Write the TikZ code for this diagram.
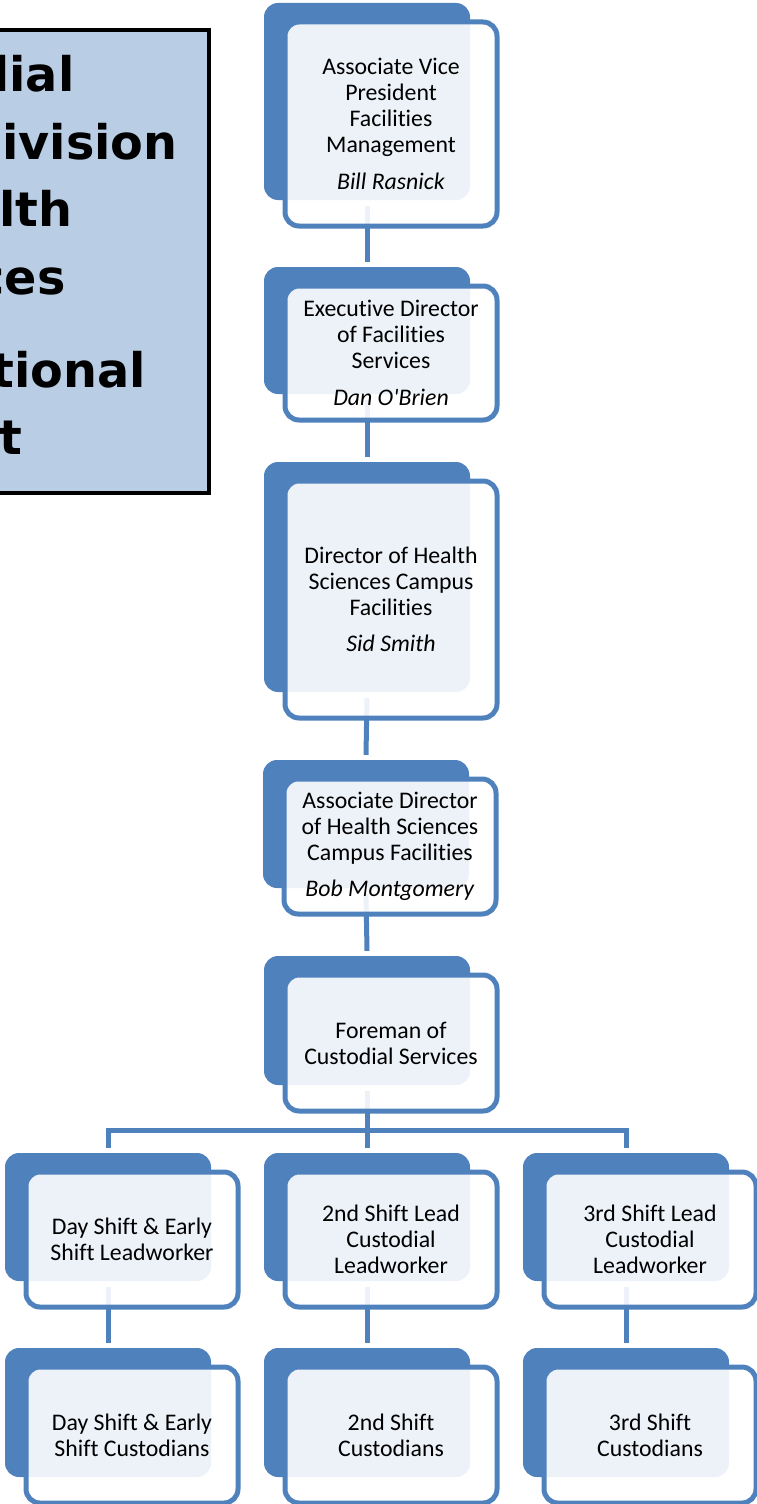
\documentclass[tikz,border=0pt]{standalone}
\usepackage{fontspec}
\setmainfont{Carlito}[Ligatures={NoCommon,NoContextual,NoRequired}, Contextuals={NoAlternate}]
\newfontfamily\titlefont{DejaVu Sans}
\definecolor{accent}{RGB}{79,129,189}
\definecolor{titlefill}{RGB}{185,205,229}
\begin{document}
\begin{tikzpicture}[x=1pt,y=-1pt,
  backbox/.style={shape=rectangle, fill=accent, rounded corners=14pt, minimum width=206pt, inner sep=0pt},
  frontbox/.style={shape=rectangle, fill=white, fill opacity=0.9, text opacity=1, draw=accent, line width=5pt,
    rounded corners=14pt, minimum width=212pt, inner sep=0pt, align=center,
    font=\fontsize{23.8}{26}\selectfont},
  conn/.style={draw=accent, line width=5pt},
  titleline/.style={anchor=base, inner sep=0pt, font=\titlefont\bfseries\fontsize{47.7}{50}\selectfont}]
\useasboundingbox (0,0) rectangle (756,1504);

% title box (clipped at the left edge)
\begin{scope}
\clip (0,0) rectangle (756,1504);
\node[draw=black, fill=titlefill, line width=4pt, minimum width=609pt, minimum height=463pt, inner sep=0pt] (title) at (-95.5,261.5) {};
\node[titleline] (t1) at (-51.5,91) {Custodial};
\node[titleline] (t2) at (-51.5,159) {Services Division};
\node[titleline] (t3) at (-51.5,226) {of Health};
\node[titleline] (t4) at (-51.5,294) {Sciences};
\node[titleline] (t5) at (-51.5,387) {Organizational};
\node[titleline] (t6) at (-51.5,454) {Chart};
\end{scope}

% back boxes
\node[backbox, minimum height=197pt] (b1) at (367,101.5) {};
\node[backbox, minimum height=127pt] (b2) at (367,330.5) {};
\node[backbox, minimum height=230pt] (b3) at (367,577) {};
\node[backbox, minimum height=128pt] (b4) at (366,824) {};
\node[backbox, minimum height=129pt] (b5) at (367,1020.5) {};
\node[backbox, minimum height=128pt] (b6a) at (108,1217) {};
\node[backbox, minimum height=128pt] (b6b) at (367,1217) {};
\node[backbox, minimum height=128pt] (b6c) at (626,1217) {};
\node[backbox, minimum height=129pt] (b7a) at (108,1412.5) {};
\node[backbox, minimum height=129pt] (b7b) at (367,1412.5) {};
\node[backbox, minimum height=129pt] (b7c) at (626,1412.5) {};

% connectors
\coordinate (hub) at (367,1130);
\draw[conn] ([yshift=-6pt]b1.south) -- ([yshift=5pt]b2.north);
\draw[conn] ([yshift=-6pt]b2.south) -- ([yshift=5pt]b3.north);
\draw[conn] ([yshift=-6pt]b3.south) -- ([yshift=5pt]b4.north);
\draw[conn] ([yshift=-6pt]b4.south) -- ([yshift=5pt]b5.north);
\draw[conn] ([yshift=-6pt]b5.south) -- (hub);
\draw[conn] ([yshift=5pt]b6a.north) |- (hub) -| ([yshift=5pt]b6c.north);
\draw[conn] (hub) -- ([yshift=5pt]b6b.north);
\draw[conn] ([yshift=-6pt]b6a.south) -- ([yshift=5pt]b7a.north);
\draw[conn] ([yshift=-6pt]b6b.south) -- ([yshift=5pt]b7b.north);
\draw[conn] ([yshift=-6pt]b6c.south) -- ([yshift=5pt]b7c.north);

% front boxes with text
\node[frontbox, minimum height=204pt] (f1) at (391,124) {Associate Vice\\President\\Facilities\\Management\\[10.5pt]\textit{Bill Rasnick}};
\node[frontbox, minimum height=134pt] (f2) at (391,353) {Executive Director\\of Facilities\\Services\\[10.5pt]\textit{Dan O\textquotesingle Brien}};
\node[frontbox, minimum height=237pt] (f3) at (391,599.5) {Director of Health\\Sciences Campus\\Facilities\\[10.5pt]\textit{Sid Smith}};
\node[frontbox, minimum height=135pt] (f4) at (390,846.5) {Associate Director\\of Health Sciences\\Campus Facilities\\[10.5pt]\textit{Bob Montgomery}};
\node[frontbox, minimum height=136pt] (f5) at (391,1043) {Foreman of\\Custodial Services};
\node[frontbox, minimum height=135pt] (f6a) at (132,1239.5) {Day Shift \& Early\\Shift Leadworker};
\node[frontbox, minimum height=135pt] (f6b) at (391,1239.5) {2nd Shift Lead\\Custodial\\Leadworker};
\node[frontbox, minimum height=135pt] (f6c) at (650,1239.5) {3rd Shift Lead\\Custodial\\Leadworker};
\node[frontbox, minimum height=136pt] (f7a) at (132,1435) {Day Shift \& Early\\Shift Custodians};
\node[frontbox, minimum height=136pt] (f7b) at (391,1435) {2nd Shift\\Custodians};
\node[frontbox, minimum height=136pt] (f7c) at (650,1435) {3rd Shift\\Custodians};
\end{tikzpicture}
\end{document}
